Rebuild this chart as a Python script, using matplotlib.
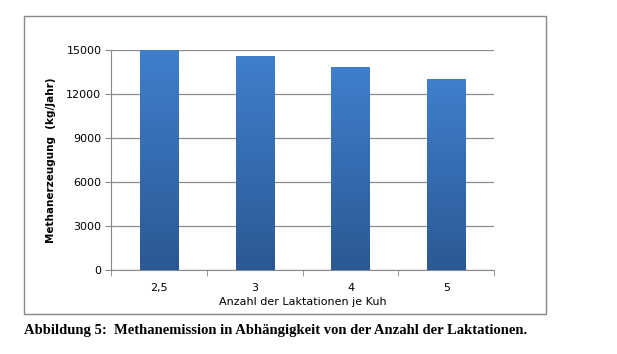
import numpy as np
import matplotlib.pyplot as plt
from matplotlib.patches import Rectangle

categories = ['2,5', '3', '4', '5']
methane = [14990, 14520, 13790, 12960]
yticks = [0, 3000, 6000, 9000, 12000, 15000]

fig = plt.figure(figsize=(6.17, 3.54), dpi=100)
ax = fig.add_axes([0.180, 0.237, 0.621, 0.622])

x = np.arange(len(categories))
bars = ax.bar(x, methane, width=0.4, color='none', edgecolor='none', zorder=3)

# vertical gradient for each bar, light blue on top, dark below
grad = np.linspace(0, 1, 256).reshape(-1, 1)
cmap = plt.matplotlib.colors.LinearSegmentedColormap.from_list('bar', ['#2c5894', '#3f7fcc'])
for b in bars:
    x0, w, h = b.get_x(), b.get_width(), b.get_height()
    ax.imshow(grad, extent=[x0, x0 + w, 0, h], origin='lower', aspect='auto',
              cmap=cmap, zorder=3)

ax.set_xlim(-0.5, len(categories) - 0.5)
ax.set_ylim(0, 15000)
ax.set_yticks(yticks)
ax.set_xticks(x)
ax.set_xticklabels(categories)
ax.set_xticks(np.arange(-0.5, len(categories)), minor=True)
ax.tick_params(axis='x', which='major', length=0, pad=9, labelsize=8)
ax.tick_params(axis='x', which='minor', length=4, direction='out', color='#888888')
ax.tick_params(axis='y', length=4, direction='out', color='#888888', labelsize=8, pad=3)

ax.grid(axis='y', color='#8c8c8c', linewidth=0.9, zorder=0)
for s in ['top', 'right']:
    ax.spines[s].set_visible(False)
ax.spines['left'].set_color('#888888')
ax.spines['bottom'].set_color('#888888')

ax.set_xlabel('Anzahl der Laktationen je Kuh', fontsize=8, labelpad=3)
ax.set_ylabel('Methanerzeugung  (kg/Jahr)', fontsize=7.5, fontweight='bold', labelpad=7)

# outer chart frame
fig.patches.append(Rectangle((0.039, 0.113), 0.846, 0.842, transform=fig.transFigure,
                             fill=False, edgecolor='#888888', linewidth=1.0))

fig.text(0.039, 0.067, 'Abbildung 5:  Methanemission in Abhängigkeit von der Anzahl der Laktationen.',
         family='Liberation Serif', fontweight='bold', fontsize=10.5, va='center')

fig.savefig('out.png', dpi=100)
